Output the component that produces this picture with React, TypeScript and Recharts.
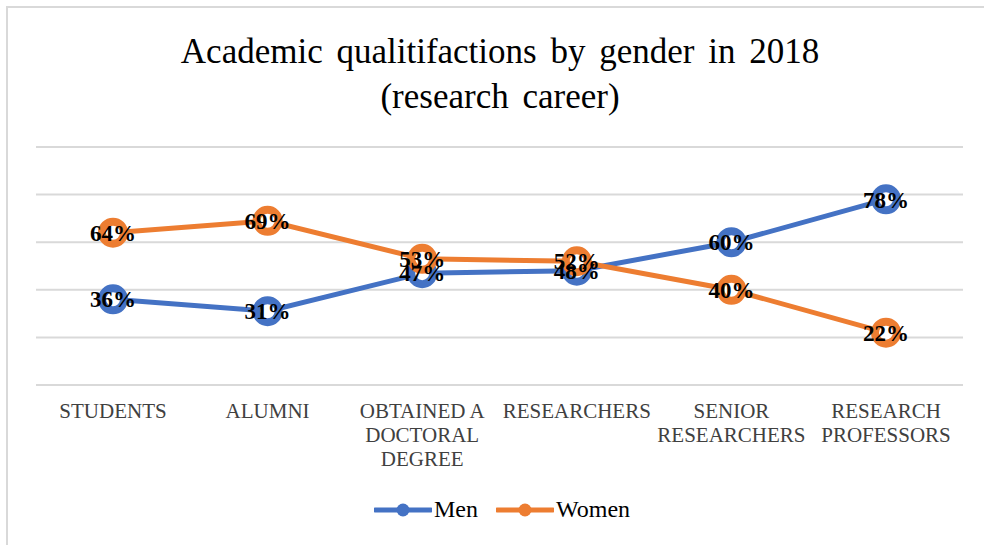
import React from "react"
import { LineChart, Line, XAxis, YAxis, CartesianGrid, LabelList } from "recharts"

const categories = [
  "STUDENTS",
  "ALUMNI",
  "OBTAINED A\nDOCTORAL\nDEGREE",
  "RESEARCHERS",
  "SENIOR\nRESEARCHERS",
  "RESEARCH\nPROFESSORS",
]
const men = [36, 31, 47, 48, 60, 78]
const women = [64, 69, 53, 52, 40, 22]
const yTicks = [0, 20, 40, 60, 80, 100]

const MEN_COLOR = "#4472C4"
const WOMEN_COLOR = "#ED7D31"
const FONT = "'Liberation Serif', 'Times New Roman', serif"

const data = categories.map((category, i) => ({ category, men: men[i], women: women[i] }))

function CategoryTick({ x, y, payload }: any) {
  const lines = String(payload.value).split("\n")
  return (
    <text x={x} y={y} textAnchor="middle" fill="#404040" fontSize={21} fontFamily={FONT}>
      {lines.map((line, i) => (
        <tspan key={i} x={x} dy={i === 0 ? 25 : 24}>
          {line}
        </tspan>
      ))}
    </text>
  )
}

function Ring({ cx, cy, stroke }: any) {
  if (cx == null || cy == null) return null
  return <circle cx={cx} cy={cy} r={11} fill="#fff" stroke={stroke} strokeWidth={8} />
}

function LegendItem({ color, label }: { color: string; label: string }) {
  return (
    <div style={{ display: "flex", alignItems: "center", marginRight: 18 }}>
      <svg width={58} height={14}>
        <line x1={1} y1={7} x2={57} y2={7} stroke={color} strokeWidth={5} strokeLinecap="round" />
        <circle cx={29} cy={7} r={6.5} fill={color} />
      </svg>
      <span style={{ fontFamily: FONT, fontSize: 24, color: "#000", marginLeft: 2 }}>{label}</span>
    </div>
  )
}

const labelStyle = { fontFamily: FONT, fontSize: 23, fontWeight: 700, fill: "#000" }

export default function App() {
  return (
    <div style={{ position: "fixed", left: 0, top: 0, width: 984, height: 545, background: "#fff" }}>
      <div
        style={{
          position: "absolute",
          left: 6,
          top: 6,
          width: 990,
          height: 560,
          borderLeft: "2px solid #d9d9d9",
          borderTop: "2px solid #d9d9d9",
        }}
      />
      <div
        style={{
          position: "absolute",
          top: 29,
          width: 1000,
          textAlign: "center",
          fontFamily: FONT,
          fontSize: 35,
          lineHeight: "45px",
          color: "#000",
          wordSpacing: 5,
        }}
      >
        Academic qualitifactions by gender in 2018
        <br />
        (research career)
      </div>
      <LineChart
        width={984}
        height={545}
        data={data}
        margin={{ top: 147, right: 21, bottom: 130, left: 36 }}
        style={{ position: "absolute", left: 0, top: 0 }}
      >
        <CartesianGrid vertical={false} stroke="#d9d9d9" strokeWidth={2} />
        <XAxis
          dataKey="category"
          height={30}
          padding={{ left: 77, right: 77 }}
          axisLine={{ stroke: "#d9d9d9", strokeWidth: 2 }}
          tickLine={false}
          tick={<CategoryTick />}
          interval={0}
        />
        <YAxis hide domain={[0, 100]} ticks={yTicks} />
        <Line
          dataKey="men"
          stroke={MEN_COLOR}
          strokeWidth={5}
          dot={<Ring stroke={MEN_COLOR} />}
          activeDot={false}
          isAnimationActive={false}
        />
        <Line
          dataKey="women"
          stroke={WOMEN_COLOR}
          strokeWidth={5}
          dot={<Ring stroke={WOMEN_COLOR} />}
          activeDot={false}
          isAnimationActive={false}
        />
        <Line dataKey="men" stroke="none" dot={false} activeDot={false} isAnimationActive={false}>
          <LabelList dataKey="men" position="center" formatter={(v: any) => `${v}%`} style={labelStyle} />
        </Line>
        <Line dataKey="women" stroke="none" dot={false} activeDot={false} isAnimationActive={false}>
          <LabelList dataKey="women" position="center" formatter={(v: any) => `${v}%`} style={labelStyle} />
        </Line>
      </LineChart>
      <div
        style={{
          position: "absolute",
          top: 496,
          left: 374,
          display: "flex",
          alignItems: "center",
        }}
      >
        <LegendItem color={MEN_COLOR} label="Men" />
        <LegendItem color={WOMEN_COLOR} label="Women" />
      </div>
    </div>
  )
}
